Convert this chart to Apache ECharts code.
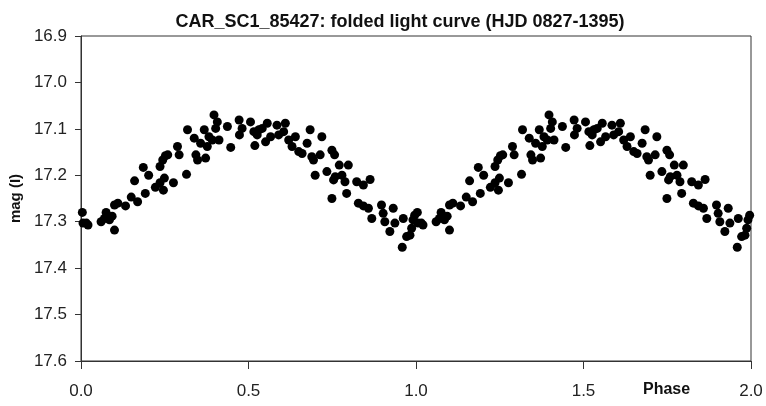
<!DOCTYPE html>
<html>
<head>
<meta charset="utf-8">
<script src="https://cdn.jsdelivr.net/npm/echarts@6/dist/echarts.min.js"></script>
<style>
  html, body { margin: 0; padding: 0; background: #fff; }
  #chart { width: 766px; height: 406px; }
</style>
</head>
<body>
<div id="chart"></div>
<script>
// one cycle of the folded light curve
const phase = [
  0.004, 0.006, 0.016, 0.021, 0.060, 0.070, 0.075, 0.085, 0.093, 0.100,
  0.100, 0.110, 0.133, 0.150, 0.160, 0.169, 0.186, 0.192, 0.202, 0.222,
  0.236, 0.236, 0.244, 0.246, 0.249, 0.252, 0.259, 0.276, 0.288, 0.293,
  0.315, 0.318, 0.338, 0.343, 0.348, 0.357, 0.368, 0.372, 0.377, 0.382,
  0.392, 0.397, 0.402, 0.407, 0.412, 0.437, 0.447, 0.472, 0.473, 0.481,
  0.506, 0.516, 0.519, 0.526, 0.531, 0.541, 0.551, 0.556, 0.566, 0.585,
  0.590, 0.605, 0.610, 0.620, 0.630, 0.640, 0.650, 0.660, 0.675, 0.684,
  0.689, 0.694, 0.699, 0.714, 0.719, 0.734, 0.749, 0.749, 0.754, 0.757,
  0.759, 0.771, 0.779, 0.788, 0.793, 0.798, 0.823, 0.828, 0.843, 0.843,
  0.858, 0.863, 0.868, 0.897, 0.902, 0.907, 0.922, 0.932, 0.937, 0.959,
  0.962, 0.972, 0.982, 0.987, 0.991, 0.996
];
const mag = [
  17.280, 17.303, 17.303, 17.307, 17.300, 17.293, 17.280, 17.296, 17.288, 17.318,
  17.264, 17.260, 17.266, 17.247, 17.212, 17.257, 17.183, 17.239, 17.200, 17.226,
  17.216, 17.181, 17.167, 17.232, 17.206, 17.158, 17.156, 17.216, 17.138, 17.156,
  17.198, 17.102, 17.120, 17.156, 17.167, 17.131, 17.102, 17.163, 17.138, 17.117,
  17.124, 17.070, 17.099, 17.085, 17.124, 17.095, 17.140, 17.081, 17.113, 17.099,
  17.085, 17.106, 17.136, 17.113, 17.102, 17.099, 17.128, 17.088, 17.117, 17.092,
  17.113, 17.106, 17.088, 17.124, 17.138, 17.117, 17.149, 17.153, 17.131, 17.102,
  17.160, 17.167, 17.200, 17.156, 17.117, 17.192, 17.146, 17.250, 17.210, 17.156,
  17.203, 17.178, 17.200, 17.214, 17.239, 17.178, 17.214, 17.260, 17.221, 17.266,
  17.271, 17.209, 17.293, 17.264, 17.282, 17.300, 17.321, 17.271, 17.303, 17.355,
  17.293, 17.332, 17.329, 17.314, 17.296, 17.286
];
const xTicks = [0, 0.5, 1.0, 1.5, 2.0];
const yTicks = [16.9, 17.0, 17.1, 17.2, 17.3, 17.4, 17.5, 17.6];

const font = "'Liberation Sans', Arial, sans-serif";

// folded: the same cycle is plotted twice, at phase and phase + 1
let points = [];
phase.forEach((p, i) => points.push([p, mag[i]]));
phase.forEach((p, i) => points.push([p + 1, mag[i]]));

let chart = echarts.init(document.getElementById("chart"));
let option = {
    animation: false,
    title: {
        text: "CAR_SC1_85427: folded light curve (HJD 0827-1395)",
        left: 395,
        top: 8,
        textAlign: "center",
        textStyle: { fontFamily: font, fontSize: 18, fontWeight: "bold", color: "#111" },
    },
    grid: {
        left: 78,
        right: 15,
        top: 36,
        bottom: 45,
        show: true,
        borderColor: "#333",
        borderWidth: 1,
    },
    xAxis: {
        type: "value",
        min: xTicks[0],
        max: xTicks[xTicks.length - 1],
        interval: 0.5,
        axisLine: { show: true, onZero: false, lineStyle: { color: "#333", width: 1 } },
        axisTick: { show: true, length: 8, lineStyle: { color: "#333" } },
        splitLine: { show: false },
        axisLabel: {
            margin: 22,
            fontFamily: font,
            fontSize: 17,
            color: "#222",
            formatter: (v) => v.toFixed(1),
        },
    },
    yAxis: {
        type: "value",
        inverse: true,
        min: yTicks[0],
        max: yTicks[yTicks.length - 1],
        interval: 0.1,
        name: "mag (I)",
        nameLocation: "middle",
        nameGap: 57,
        nameTextStyle: { fontFamily: font, fontSize: 15, fontWeight: "bold", color: "#111" },
        axisLine: { show: true, lineStyle: { color: "#333", width: 1 } },
        axisTick: { show: true, length: 6, lineStyle: { color: "#333" } },
        splitLine: { show: false },
        axisLabel: {
            margin: 14,
            fontFamily: font,
            fontSize: 17,
            color: "#222",
            formatter: (v) => v.toFixed(1),
        },
    },
    graphic: [
        {
            type: "text",
            left: 643,
            top: 382,
            style: { text: "Phase", font: "bold 16px " + font, fill: "#111" },
        },
    ],
    series: [
        {
            type: "scatter",
            data: points,
            symbol: "circle",
            symbolSize: 9,
            itemStyle: { color: "#000", opacity: 1 },
        },
    ],
};
chart.setOption(option);
</script>
</body>
</html>
